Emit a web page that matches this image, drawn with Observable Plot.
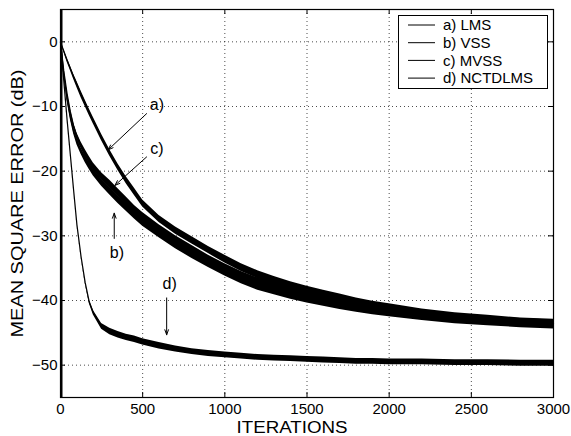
<!DOCTYPE html>
<html><head><meta charset="utf-8">
<script src="https://cdn.jsdelivr.net/npm/d3@7"></script>
<script src="https://cdn.jsdelivr.net/npm/@observablehq/plot@0.6"></script>
<style>
body{margin:0;background:#fff}
#chart{position:relative;width:571px;height:436px}
</style>
</head><body><div id="chart"></div>
<script>
// ---- data ----
const iterations = [0,20,40,60,80,100,125,150,175,200,250,300,350,400,450,500,600,700,800,900,1000,1100,1200,1300,1400,1500,1600,1700,1800,1900,2000,2200,2400,2600,2800,3000];
const lmsMSE   = [0,-1.4,-2.8,-4.1,-5.4,-6.6,-8.1,-9.5,-10.9,-12.2,-14.8,-17.2,-19.4,-21.4,-23.2,-25.0,-27.4,-29.2,-30.7,-32.2,-33.6,-34.9,-36.0,-36.9,-37.7,-38.4,-39.0,-39.6,-40.2,-40.7,-41.1,-41.9,-42.5,-42.9,-43.3,-43.5];
const vssMSE   = [0,-5,-8.8,-11.6,-13.8,-15.4,-16.9,-18.1,-19.2,-20.2,-21.8,-23.1,-24.4,-25.6,-26.8,-27.9,-29.7,-31.4,-32.9,-34.3,-35.6,-36.8,-37.8,-38.5,-39.2,-39.8,-40.3,-40.8,-41.2,-41.6,-41.9,-42.5,-43.0,-43.3,-43.6,-43.8];
const mvssMSE  = [0,-4.5,-8,-10.8,-13,-14.6,-16,-17.2,-18.3,-19.3,-20.8,-22.0,-23.3,-24.6,-25.9,-27.0,-28.9,-30.6,-32.1,-33.6,-34.9,-36.1,-37.1,-37.9,-38.6,-39.3,-39.8,-40.3,-40.8,-41.2,-41.5,-42.2,-42.7,-43.1,-43.4,-43.6];
const nctdMSE  = [0,-6,-12,-17.5,-23,-28.3,-33.2,-37.2,-40.2,-41.9,-44.0,-44.8,-45.3,-45.7,-46.0,-46.4,-47.0,-47.5,-47.9,-48.2,-48.4,-48.6,-48.8,-48.9,-49.0,-49.1,-49.2,-49.3,-49.4,-49.4,-49.5,-49.5,-49.6,-49.6,-49.7,-49.7];
// half-width of the noisy band around each curve (dB)
const lmsNoise  = [0,0.2,0.3,0.35,0.4,0.45,0.5,0.5,0.5,0.5,0.5,0.5,0.5,0.55,0.55,0.55,0.55,0.55,0.55,0.55,0.6,0.6,0.6,0.6,0.6,0.6,0.6,0.6,0.6,0.6,0.6,0.6,0.6,0.6,0.6,0.6];
const vssNoise  = [0,0.3,0.35,0.4,0.45,0.5,0.5,0.55,0.55,0.55,0.55,0.6,0.6,0.6,0.6,0.6,0.6,0.6,0.6,0.6,0.6,0.6,0.6,0.6,0.6,0.6,0.6,0.6,0.6,0.6,0.6,0.6,0.6,0.6,0.6,0.6];
const mvssNoise = [0,0.3,0.35,0.4,0.45,0.5,0.5,0.55,0.55,0.55,0.55,0.6,0.6,0.6,0.6,0.6,0.6,0.6,0.6,0.6,0.6,0.6,0.6,0.6,0.6,0.6,0.6,0.6,0.6,0.6,0.6,0.6,0.6,0.6,0.6,0.6];
const nctdNoise = [0,0.05,0.05,0.05,0.05,0.05,0.1,0.15,0.25,0.35,0.45,0.5,0.5,0.5,0.5,0.5,0.5,0.45,0.45,0.45,0.45,0.45,0.45,0.45,0.45,0.45,0.45,0.45,0.45,0.45,0.45,0.45,0.45,0.45,0.45,0.45];

const seriesLabels = ["a) LMS","b) VSS","c) MVSS","d) NCTDLMS"];
const xTicks = [0,500,1000,1500,2000,2500,3000];
const yTicks = [0,-10,-20,-30,-40,-50];
const xDomain = [0,3000];
const yDomain = [-55,5];
// annotation labels and arrows (data coordinates)
const annotations = [
  {label:"a)", tx:587, ty:-9.7,  x1:524, y1:-11.1, x2:290, y2:-16.7},
  {label:"c)", tx:587, ty:-16.6, x1:524, y1:-17.8, x2:331, y2:-22.2},
  {label:"b)", tx:343, ty:-32.6, x1:327, y1:-30.4, x2:327, y2:-26.5},
  {label:"d)", tx:664, ty:-37.4, x1:646, y1:-39.6, x2:646, y2:-45.3}
];

// ---- build table ----
const seriesDefs = [
  {name: seriesLabels[0], v: lmsMSE,  n: lmsNoise},
  {name: seriesLabels[1], v: vssMSE,  n: vssNoise},
  {name: seriesLabels[2], v: mvssMSE, n: mvssNoise},
  {name: seriesLabels[3], v: nctdMSE, n: nctdNoise}
];
const rows = seriesDefs.flatMap(s => iterations.map((it, i) => ({
  series: s.name, iter: it, v: s.v[i], lo: s.v[i] - s.n[i], hi: s.v[i] + s.n[i]
})));

const W = 571, H = 436;
const mL = 60, mR = 18, mT = 9, mB = 39;
const frameH = H - mT - mB, frameW = W - mL - mR;
const FONT = "'Liberation Sans', Arial, Helvetica, sans-serif";

const plot = Plot.plot({
  width: W, height: H,
  marginLeft: mL, marginRight: mR, marginTop: mT, marginBottom: mB,
  style: {fontFamily: FONT, background: "#fff", color: "#000"},
  x: {domain: xDomain},
  y: {domain: yDomain},
  marks: [
    Plot.gridX(xTicks, {stroke: "#000", strokeOpacity: 0.7, strokeDasharray: "1,3"}),
    Plot.gridY(yTicks, {stroke: "#000", strokeOpacity: 0.7, strokeDasharray: "1,3"}),
    Plot.areaY(rows, {x: "iter", y1: "lo", y2: "hi", z: "series", fill: "#000"}),
    Plot.line(rows, {x: "iter", y: "v", z: "series", stroke: "#000", strokeWidth: 1.2}),
    // inward ticks
    Plot.ruleX(xTicks, {insetTop: frameH - 5, stroke: "#000"}),
    Plot.ruleX(xTicks, {insetBottom: frameH - 5, stroke: "#000"}),
    Plot.ruleY(yTicks, {insetRight: frameW - 5, stroke: "#000"}),
    Plot.ruleY(yTicks, {insetLeft: frameW - 5, stroke: "#000"}),
    Plot.frame({stroke: "#000", strokeWidth: 1.2}),
    // heavier left edge (curve start overlapping the y axis)
    Plot.ruleX([xDomain[0]], {stroke: "#000", strokeWidth: 2, dx: 1}),
    Plot.axisX(xTicks, {tickSize: 0, tickPadding: 6, fontSize: 15, label: null, tickFormat: d3.format("d")}),
    Plot.axisY(yTicks, {tickSize: 0, tickPadding: 3, fontSize: 15, label: null}),
    Plot.text(["ITERATIONS"], {frameAnchor: "bottom", dy: 30, dx: -15, fontSize: 16, fill: "#000", textAnchor: "middle", lineAnchor: "middle", className: "xlab"}),
    Plot.text(["MEAN SQUARE ERROR (dB)"], {frameAnchor: "left", dx: -43, rotate: -90, fontSize: 17, fill: "#000", textAnchor: "middle", lineAnchor: "middle", className: "ylab"}),
    // annotations
    Plot.arrow(annotations, {x1: "x1", y1: "y1", x2: "x2", y2: "y2", stroke: "#000", strokeWidth: 1, headLength: 8, headAngle: 40}),
    Plot.text(annotations, {x: "tx", y: "ty", text: "label", fontSize: 16, fill: "#000"})
  ]
});
document.getElementById("chart").appendChild(plot);

// stretch the axis labels to the reference's lengths
d3.select(plot).selectAll("g.ylab text").attr("textLength", 268).attr("lengthAdjust", "spacingAndGlyphs");
d3.select(plot).selectAll("g.xlab text").attr("textLength", 111).attr("lengthAdjust", "spacingAndGlyphs");

// legend inside the plot (top-right)
const svg = d3.select(plot);
const lg = svg.append("g").attr("font-family", FONT).attr("font-size", 15).attr("text-anchor", "start");
lg.append("rect").attr("x", 398.5).attr("y", 15.5).attr("width", 149).attr("height", 73)
  .attr("fill", "#fff").attr("stroke", "#000").attr("stroke-width", 1);
seriesLabels.forEach((lab, i) => {
  const cy = 25 + i * 17.7;
  lg.append("line").attr("x1", 408).attr("x2", 435).attr("y1", cy).attr("y2", cy)
    .attr("stroke", "#000").attr("stroke-width", 1);
  lg.append("text").attr("x", 443).attr("y", cy).attr("dy", "0.35em").attr("fill", "#000").text(lab);
});
</script>
</body></html>
